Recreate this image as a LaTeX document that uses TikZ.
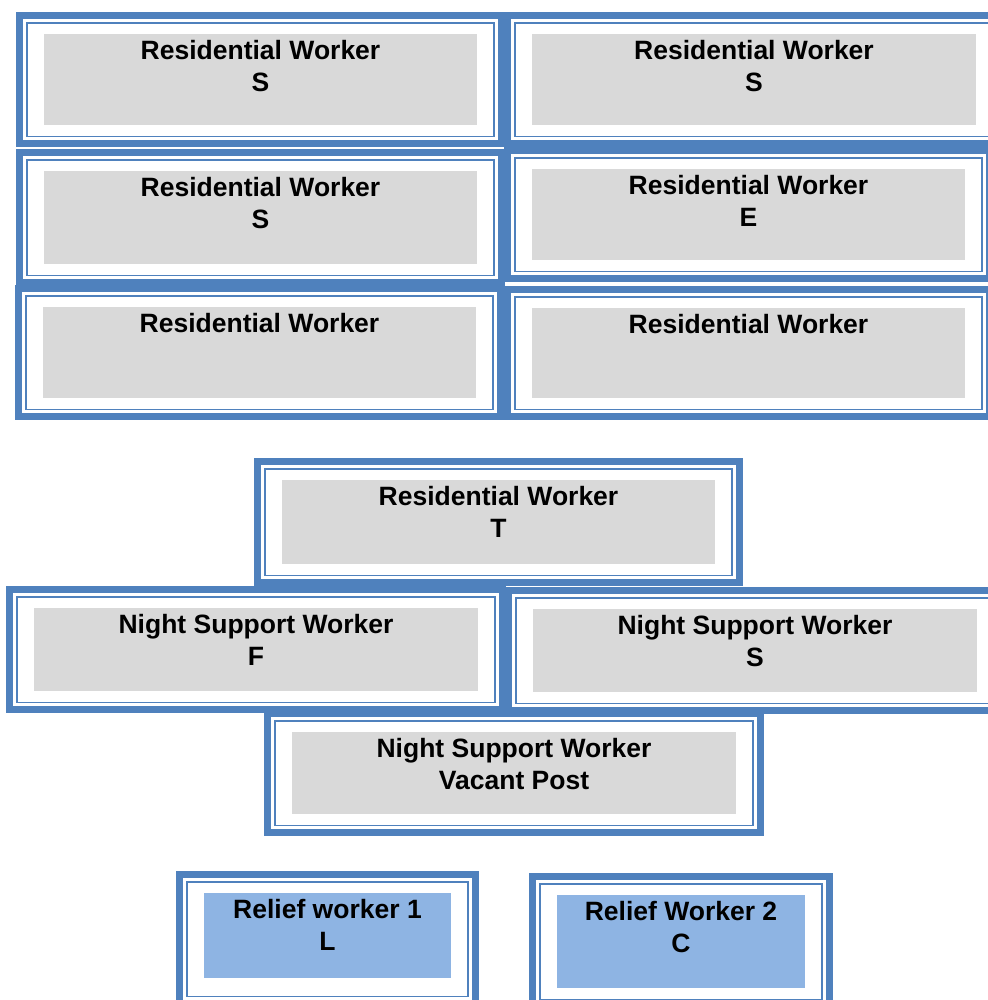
\documentclass[tikz,border=0pt]{standalone}
\usepackage{fontspec}
\setmainfont{Liberation Sans}
\usetikzlibrary{backgrounds}
\definecolor{frameblue}{HTML}{4F81BD}
\definecolor{postgray}{HTML}{D9D9D9}
\definecolor{reliefblue}{HTML}{8EB4E3}
\def\postframe#1#2{%
  \fill[frameblue] ([shift={(-28,-22)}]#1.north west) rectangle ([shift={(28,22+#2)}]#1.south east);
  \fill[white] ([shift={(-21,-15)}]#1.north west) rectangle ([shift={(21,15+#2)}]#1.south east);
  \draw[frameblue,line width=1.5pt] ([shift={(-17,-11)}]#1.north west) rectangle ([shift={(17,11+#2)}]#1.south east);}

\begin{document}
\begin{tikzpicture}[x=1pt,y=-1pt,
    post/.style={fill=postgray,anchor=north,inner sep=0pt,align=center,text height=25pt,
      font=\fontsize{26.5}{32}\selectfont\bfseries},
    posttwo/.style={post,text height=57pt},
    relief/.style={posttwo,fill=reliefblue}]
  \useasboundingbox (0,0) rectangle (987,1000);
  \node[posttwo,minimum width=433pt,text depth=34pt] (rwa) at (260.5,34) {Residential Worker\\S};
  \node[posttwo,minimum width=444pt,text depth=34pt] (rwb) at (754,34) {Residential Worker\\S};
  \node[posttwo,minimum width=433pt,text depth=36pt] (rwc) at (260.5,171) {Residential Worker\\S};
  \node[posttwo,minimum width=433pt,text depth=34pt] (rwd) at (748.5,169) {Residential Worker\\E};
  \node[post,minimum width=433pt,text depth=66pt] (rwe) at (259.5,307) {Residential Worker};
  \node[post,minimum width=433pt,text depth=65pt] (rwf) at (748.5,308) {Residential Worker};
  \node[posttwo,minimum width=433pt,text depth=27pt] (rwt) at (498.5,480) {Residential Worker\\T};
  \node[posttwo,minimum width=444pt,text depth=26pt] (nswf) at (256,608) {Night Support Worker\\F};
  \node[posttwo,minimum width=444pt,text depth=26pt] (nsws) at (755,609) {Night Support Worker\\S};
  \node[posttwo,minimum width=444pt,text depth=25pt] (nswv) at (514,732) {Night Support Worker\\Vacant Post};
  \node[relief,minimum width=247pt,text depth=28pt] (rla) at (327.5,893) {Relief worker 1\\L};
  \node[relief,minimum width=248pt,text depth=36pt] (rlb) at (681,895) {Relief Worker 2\\C};
  \begin{scope}[on background layer]
    \foreach \n/\b in {rwa/0,rwb/0,rwc/0,rwd/0,rwe/0,rwf/0,rwt/0,nswf/0,nsws/0,nswv/0,rla/7,rlb/0}
      {\postframe{\n}{\b}}
  \end{scope}
\end{tikzpicture}
\end{document}
